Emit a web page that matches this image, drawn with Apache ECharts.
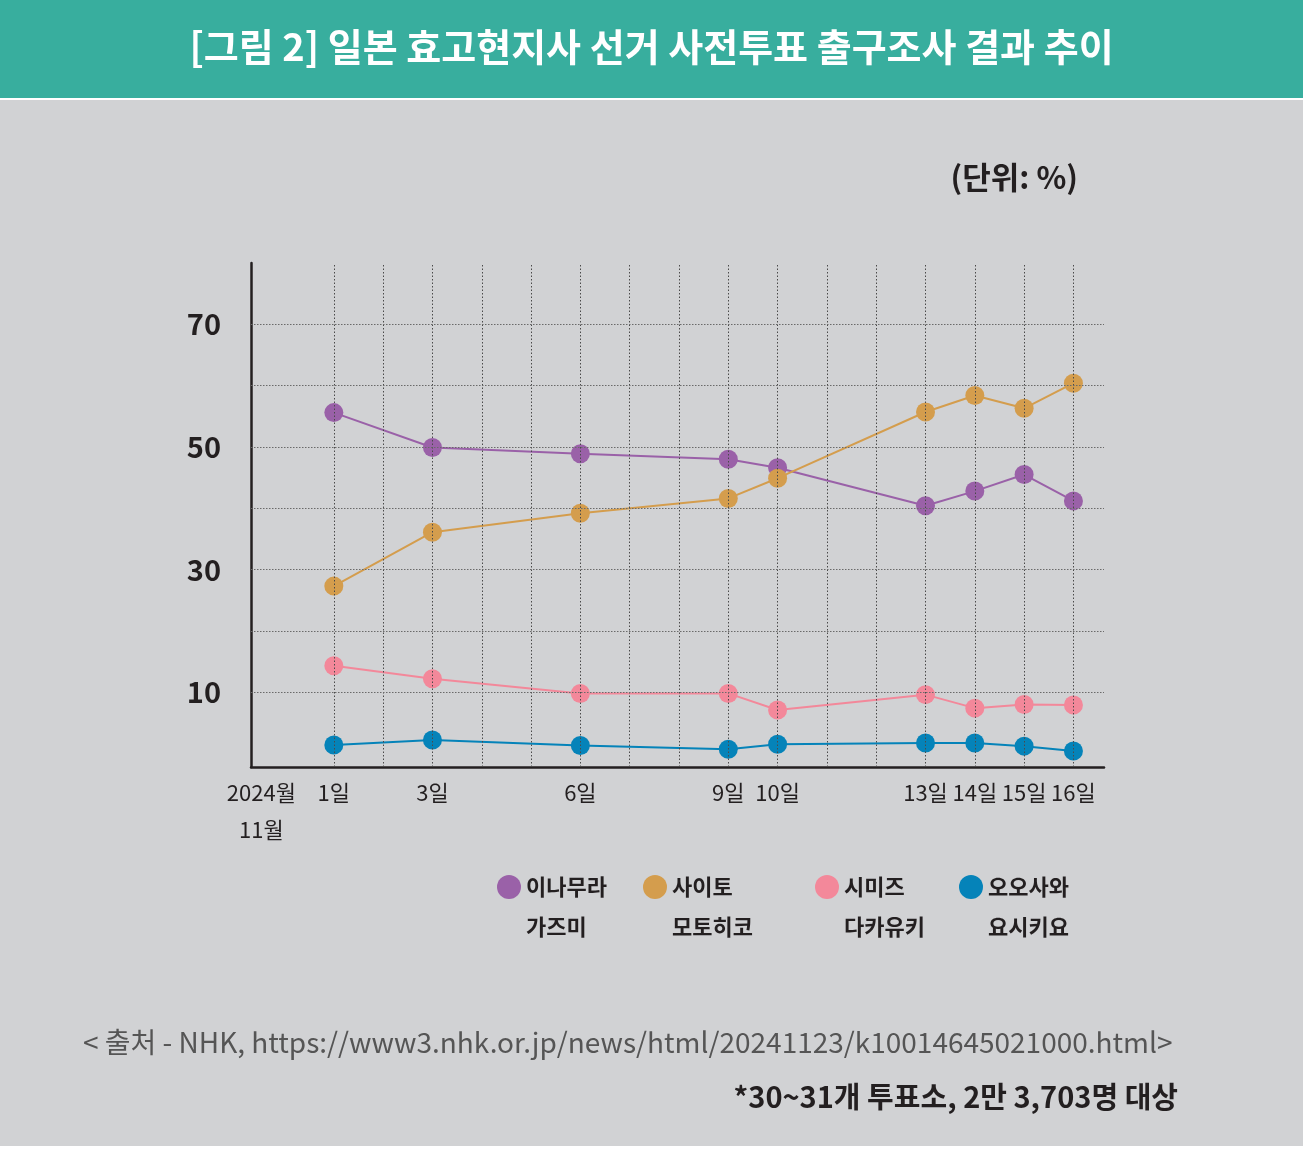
<!DOCTYPE html>
<html>
<head>
<meta charset="utf-8">
<script src="https://cdn.jsdelivr.net/npm/echarts@6/dist/echarts.min.js"></script>
<style>
  html,body{margin:0;padding:0;background:#fff;}
  #main{width:1303px;height:1154px;}
</style>
</head>
<body>
<div id="main"></div>
<script>
// days of November 2024 with survey results
var days = [1, 3, 6, 9, 10, 13, 14, 15, 16];
var gridDays = [1,2,3,4,5,6,7,8,9,10,11,12,13,14,15,16];
var gridValues = [10,20,30,40,50,60,70];
var yLabelValues = [10,30,50,70];
var monthLabel = '2024월\n11월';
var monthPos = -0.47;

var inamura = [55.6, 49.9, 48.9, 48.0, 46.6, 40.4, 42.8, 45.5, 41.2];
var saito    = [27.3, 36.1, 39.2, 41.6, 44.9, 55.7, 58.4, 56.3, 60.4];
var shimizu  = [14.3, 12.2, 9.8, 9.8, 7.1, 9.6, 7.4, 8.0, 7.9];
var osawa    = [1.4, 2.2, 1.3, 0.7, 1.5, 1.7, 1.7, 1.2, 0.4];

var names = ['이나무라\n가즈미', '사이토\n모토히코', '시미즈\n다카유키', '오오사와\n요시키요'];
var colors = ['#9a61a8', '#d49d4d', '#f3889a', '#0583b9'];
var legendLeft = [497, 643, 815, 959];

var chart = echarts.init(document.getElementById('main'), null, {renderer:'canvas'});

function pairs(vals){
  var res = [];
  for(var i=0;i<days.length;i++){
    res.push([days[i], vals[i]]);
  }
  return res;
}

var lineSeries = [inamura, saito, shimizu, osawa].map(function(vals, i){
  return {
    name: names[i],
    type: 'line',
    z: 3,
    data: pairs(vals),
    symbol: 'circle',
    symbolSize: 19,
    itemStyle: {color: colors[i]},
    lineStyle: {color: colors[i], width: 2},
    animation: false
  };
});

var gridLineData = [];
gridDays.forEach(function(d){
  gridLineData.push({xAxis: d, lineStyle:{color:'#4a4a4a', type:[1.5,2], width:1}});
});
gridValues.forEach(function(v){
  gridLineData.push({yAxis: v, lineStyle:{color:'#6a6a6a', type:[1.5,1.5], width:1}});
});

var legends = names.map(function(n, i){
  return {
    data: [n],
    left: legendLeft[i],
    top: 827,
    padding: 0,
    icon: 'circle',
    itemWidth: 24,
    itemHeight: 24,
    itemGap: 0,
    selectedMode: false,
    // empty first line so the icon sits beside the first name line
    formatter: function(name){ return ' \n' + name; },
    textStyle: {
      color: '#231f20',
      fontSize: 22,
      fontWeight: 'bold',
      fontFamily: 'Noto Sans CJK KR',
      lineHeight: 40
    }
  };
});

var option = {
  backgroundColor: '#ffffff',
  animation: false,
  textStyle: {fontFamily: 'Noto Sans CJK KR'},
  graphic: [
    {type:'rect', z:-10, shape:{x:0, y:0, width:1303, height:98}, style:{fill:'#38ae9e'}},
    {type:'rect', z:-10, shape:{x:0, y:100, width:1303, height:1046}, style:{fill:'#d1d2d4'}}
  ],
  title: [
    {
      text: '[그림 2] 일본 효고현지사 선거 사전투표 출구조사 결과 추이',
      left: 'center',
      top: 23,
      textStyle: {color:'#ffffff', fontSize:38, fontWeight:'bold', fontFamily:'Noto Sans CJK KR'}
    },
    {
      text: '(단위: %)',
      right: 220,
      top: 157,
      textStyle: {color:'#231f20', fontSize:31, fontWeight:'bold', fontFamily:'Noto Sans CJK KR'}
    },
    {
      text: '< 출처 - NHK, https://www3.nhk.or.jp/news/html/20241123/k10014645021000.html>',
      left: 78,
      top: 1023,
      textStyle: {color:'#555555', fontSize:28, fontWeight:'normal', fontFamily:'Noto Sans CJK KR'}
    },
    {
      text: '*30~31개 투표소, 2만 3,703명 대상',
      right: 120,
      top: 1077,
      textStyle: {color:'#231f20', fontSize:29, fontWeight:'bold', fontFamily:'Noto Sans CJK KR'}
    }
  ],
  legend: legends,
  grid: {left: 251, right: 199, top: 263, bottom: 387, containLabel: false},
  xAxis: {
    type: 'value',
    min: -0.68,
    max: 16.62,
    axisLine: {show:true, onZero:false, lineStyle:{color:'#231f20', width:2.5}},
    axisTick: {show:false},
    splitLine: {show:false},
    axisLabel: {
      customValues: [monthPos].concat(days),
      margin: 7,
      fontSize: 22,
      lineHeight: 37,
      color: '#231f20',
      fontFamily: 'Noto Sans CJK KR',
      formatter: function(v){
        if(v < 0){ return monthLabel; }
        return v + '일';
      }
    }
  },
  yAxis: {
    type: 'value',
    min: -2.2,
    max: 80,
    axisLine: {show:true, onZero:false, lineStyle:{color:'#231f20', width:2.5}},
    axisTick: {show:false},
    splitLine: {show:false},
    axisLabel: {
      customValues: yLabelValues,
      margin: 30,
      fontSize: 29,
      fontWeight: 600,
      color: '#231f20',
      fontFamily: 'Noto Sans CJK KR'
    }
  },
  series: [
    {
      name: 'grid',
      type: 'line',
      z: 1,
      data: [],
      silent: true,
      markLine: {
        silent: true,
        symbol: ['none','none'],
        label: {show:false},
        animation: false,
        data: gridLineData
      }
    }
  ].concat(lineSeries)
};

chart.setOption(option);
</script>
</body>
</html>
